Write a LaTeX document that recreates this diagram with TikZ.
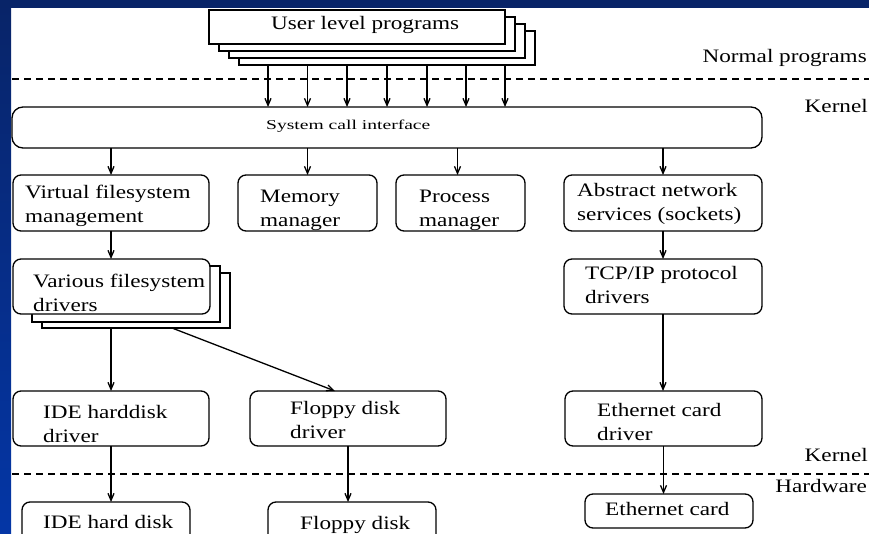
\documentclass[tikz,border=0pt]{standalone}
\usepackage{fontspec}
\setmainfont{Liberation Serif}
\newfontfamily\figfont[FakeStretch=1.22]{Liberation Serif}
\newfontfamily\sysfont[FakeStretch=1.45]{Liberation Serif}
\usetikzlibrary{arrows.meta}

\definecolor{slidenavy}{RGB}{8,36,104}
\definecolor{slideblue}{RGB}{4,54,166}

\begin{document}
\begin{tikzpicture}[x=1pt,y=-1pt,
  frame/.style={draw=black, line width=1.3pt, fill=white, inner sep=0pt, outer sep=0pt, anchor=north west},
  box/.style={frame, rounded corners=8pt},
  sheet/.style={frame},
  % multi-line labels are placed by the baseline of their last line
  txt/.style={anchor=base west, inner sep=0pt, align=left,
    font=\figfont\fontsize{19}{24}\selectfont},
  arr/.style={draw=black, line width=1.3pt, -{Straight Barb[length=7pt,width=6pt]}},
  level/.style={black, line width=1.3pt, dash pattern=on 7pt off 5pt},
]
\useasboundingbox (0,0) rectangle (869,534);
\clip (0,0) rectangle (869,534);

% slide background
\fill[white] (0,0) rectangle (869,534);
\shade[top color=slidenavy, bottom color=slideblue] (0,0) rectangle (11,534);
\fill[slidenavy] (0,0) rectangle (869,8);

% protection-level separators
\draw[level] (12,79) -- (869,79);
\draw[level] (12,474) -- (869,474);

% user programs (stacked sheets)
\node[sheet, minimum width=296pt, minimum height=34pt] (u4) at (239,31) {};
\node[sheet, minimum width=296pt, minimum height=34pt] (u3) at (229,24) {};
\node[sheet, minimum width=296pt, minimum height=34pt] (u2) at (219,17) {};
\node[sheet, minimum width=296pt, minimum height=34pt] (u1) at (209,10) {};
\node[txt] (tu) at (271,30) {User level programs};

% system call interface
\node[box, rounded corners=11pt, minimum width=750pt, minimum height=41pt] (sys) at (12,107) {};
\node[anchor=base west, inner sep=0pt, font=\sysfont\fontsize{13.5}{16}\selectfont] (tsys) at (266,130) {System call interface};

% kernel subsystems
\node[box, minimum width=196pt, minimum height=56pt] (vfs) at (13,175) {};
\node[box, minimum width=139pt, minimum height=56pt] (mem) at (238,175) {};
\node[box, minimum width=129pt, minimum height=56pt] (proc) at (396,175) {};
\node[box, minimum width=198pt, minimum height=56pt] (net) at (564,175) {};

% filesystem drivers (stacked)
\node[sheet, minimum width=188pt, minimum height=55pt] (fs3) at (42,273) {};
\node[sheet, minimum width=188pt, minimum height=56pt] (fs2) at (32,266) {};
\node[box, minimum width=197pt, minimum height=55pt] (fs1) at (13,259) {};
\node[box, minimum width=198pt, minimum height=55pt] (tcp) at (564,259) {};

% device drivers
\node[box, minimum width=196pt, minimum height=55pt] (idedrv) at (13,391) {};
\node[box, minimum width=196pt, minimum height=55pt] (flopdrv) at (250,391) {};
\node[box, minimum width=197pt, minimum height=55pt] (ethdrv) at (565,391) {};

% hardware
\node[box, minimum width=168pt, minimum height=45pt] (idedisk) at (22,502) {};
\node[box, minimum width=168pt, minimum height=45pt] (flopdisk) at (268,502) {};
\node[box, minimum width=168pt, minimum height=34pt] (eth) at (585,494) {};

% box texts
\node[txt] (tvfs) at (25,223) {Virtual filesystem\\management};
\node[txt] (tmem) at (260,227) {Memory\\manager};
\node[txt] (tproc) at (419,227) {Process\\manager};
\node[txt] (tnet) at (577,221) {Abstract network\\services (sockets)};
\node[txt] (tfs) at (33,311) {Various filesystem\\drivers};
\node[txt] (ttcp) at (585,303) {TCP/IP protocol\\drivers};
\node[txt] (tidedrv) at (43,442) {IDE harddisk\\driver};
\node[txt] (tflopdrv) at (290,438) {Floppy disk\\driver};
\node[txt] (tethdrv) at (597,440) {Ethernet card\\driver};
\node[txt] (tidedisk) at (43,528) {IDE hard disk};
\node[txt] (tflopdisk) at (300,529) {Floppy disk};
\node[txt] (teth) at (605,515) {Ethernet card};

% level labels
\node[txt, anchor=base east] (lnormal) at (867,63) {Normal programs};
\node[txt, anchor=base east] (lkern1) at (868,113) {Kernel};
\node[txt, anchor=base east] (lkern2) at (868,461) {Kernel};
\node[txt, anchor=base east] (lhw) at (867,492) {Hardware};

% connectors
\foreach \dx in {29,68.5,108,148,188,227,266}
  \draw[arr] ([xshift=\dx pt]u4.south west) -- ([xshift=\dx pt]u4.south west |- sys.north);
\draw[arr] (sys.south -| vfs.north) -- (vfs.north);
\draw[arr] (sys.south -| mem.north) -- (mem.north);
\draw[arr] ([xshift=-3pt]sys.south -| proc.north) -- ([xshift=-3pt]proc.north);
\draw[arr] (sys.south -| net.north) -- (net.north);
\draw[arr] (vfs.south) -- (vfs.south |- fs1.north);
\draw[arr] (net.south) -- (net.south |- tcp.north);
\draw[arr] (fs3.south -| idedrv.north) -- (idedrv.north);
\draw[arr] ([xshift=130pt]fs3.south west) -- ([xshift=-13pt]flopdrv.north);
\draw[arr] (tcp.south) -- (tcp.south |- ethdrv.north);
\draw[arr] (idedrv.south) -- (idedrv.south |- idedisk.north);
\draw[arr] (flopdrv.south) -- (flopdrv.south |- flopdisk.north);
\draw[arr] (ethdrv.south) -- (ethdrv.south |- eth.north);
\end{tikzpicture}
\end{document}
